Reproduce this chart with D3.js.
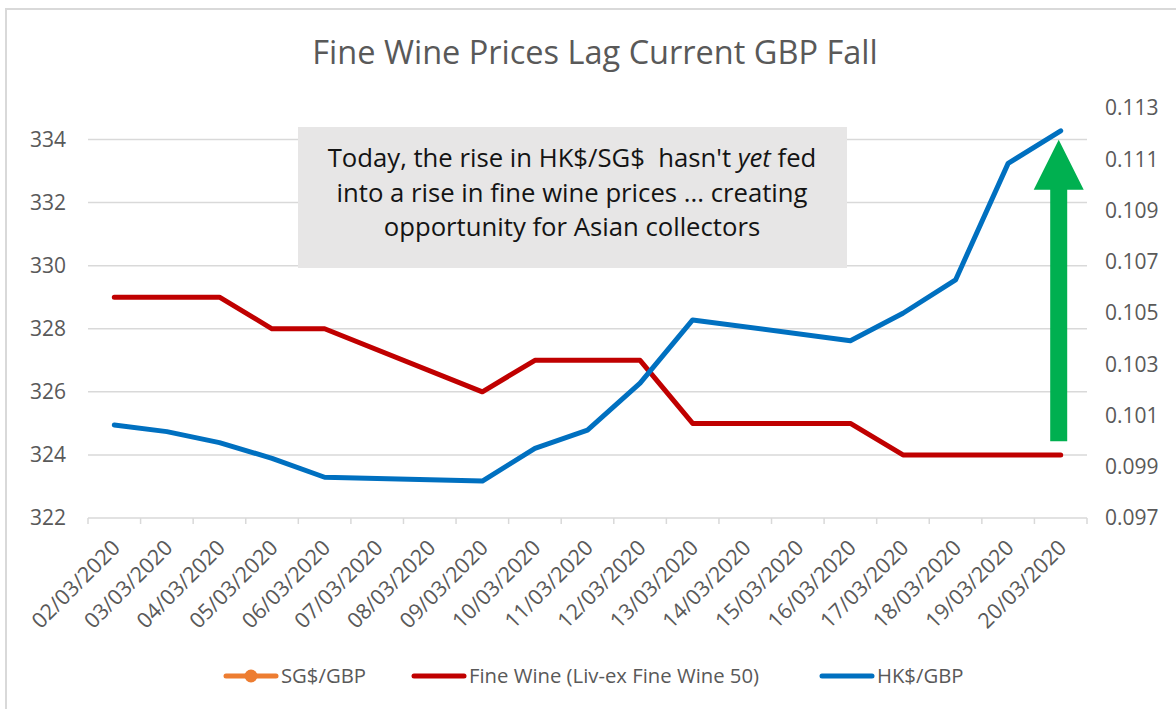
<!DOCTYPE html>
<html>
<head>
<meta charset="utf-8">
<script src="https://cdn.jsdelivr.net/npm/d3@7"></script>
<style>
  html, body { margin: 0; padding: 0; background: #fff; }
  svg { display: block; }
  text { font-family: "Open Sans", Lato, sans-serif; }
</style>
</head>
<body>
<svg id="chart" width="1176" height="709"></svg>
<script>
// ---- data ----
const categories = ["02/03/2020","03/03/2020","04/03/2020","05/03/2020","06/03/2020","07/03/2020","08/03/2020","09/03/2020","10/03/2020","11/03/2020","12/03/2020","13/03/2020","14/03/2020","15/03/2020","16/03/2020","17/03/2020","18/03/2020","19/03/2020","20/03/2020"];
const fineWine = [329,329,329,328,328,null,null,326,327,327,327,325,null,null,325,324,324,324,324];
const hkdGbp = [0.10063,0.10037,0.09994,0.09933,0.09859,null,null,0.09844,0.09972,0.10043,0.10226,0.10473,null,null,0.10392,0.10499,0.10629,0.11084,0.11211];
const sgdGbp = [null,null,null,null,null,null,null,null,null,null,null,null,null,null,null,null,null,null,null];
const leftTicks = [322,324,326,328,330,332,334];
const rightTicks = [0.097,0.099,0.101,0.103,0.105,0.107,0.109,0.111,0.113];
const seriesNames = ["SG$/GBP","Fine Wine (Liv-ex Fine Wine 50)","HK$/GBP"];
const titleText = "Fine Wine Prices Lag Current GBP Fall";
const noteLines = [["Today, the rise in HK$/SG$  hasn't ", "yet", " fed"],["into a rise in fine wine prices ... creating"],["opportunity for Asian collectors"]];

// ---- layout ----
const svg = d3.select("#chart");
const plot = {left: 88, right: 1087, top: 108, bottom: 518};
const textGrey = "#595959", gridGrey = "#d9d9d9";

svg.append("rect").attr("x",6).attr("y",9).attr("width",1200).attr("height",720)
  .attr("fill","#fff").attr("stroke","#d9d9d9").attr("stroke-width",2);

const x = d3.scaleBand().domain(categories).range([plot.left, plot.right]).paddingInner(0).paddingOuter(0);
const xc = d => x(d) + x.bandwidth()/2;
const yL = d3.scaleLinear().domain([322,335]).range([plot.bottom, plot.top]);
const yR = d3.scaleLinear().domain([0.097,0.113]).range([plot.bottom, plot.top]);

// gridlines
svg.append("g").selectAll("line").data(leftTicks.slice(1)).join("line")
  .attr("x1",plot.left).attr("x2",plot.right)
  .attr("y1",d=>yL(d)).attr("y2",d=>yL(d))
  .attr("stroke",gridGrey).attr("stroke-width",1.5);

// x axis
const xAxis = svg.append("g").attr("transform",`translate(0,${plot.bottom})`);
xAxis.append("line").attr("x1",plot.left).attr("x2",plot.right).attr("stroke",gridGrey).attr("stroke-width",1.5);
const bounds = categories.map(c => x(c)).concat([plot.right]);
xAxis.selectAll("line.tk").data(bounds).join("line").attr("class","tk")
  .attr("x1",d=>d).attr("x2",d=>d).attr("y1",0).attr("y2",6)
  .attr("stroke",gridGrey).attr("stroke-width",1.5);
xAxis.selectAll("text").data(categories).join("text")
  .attr("transform",d=>`translate(${xc(d)+3},${27}) rotate(-45)`)
  .attr("text-anchor","end").attr("dominant-baseline","middle")
  .attr("fill",textGrey).attr("font-size",21.5).text(d=>d);

// left axis labels
svg.append("g").selectAll("text").data(leftTicks).join("text")
  .attr("x",66).attr("y",d=>yL(d)).attr("dy","0.35em")
  .attr("text-anchor","end").attr("fill",textGrey).attr("font-size",21).text(d=>d);

// right axis labels
svg.append("g").selectAll("text").data(rightTicks).join("text")
  .attr("x",1105).attr("y",d=>yR(d)).attr("dy","0.35em")
  .attr("text-anchor","start").attr("fill",textGrey).attr("font-size",21).text(d=>d.toFixed(3));

// lines
function drawLine(vals, yScale, color){
  const pts = categories.map((c,i)=>({c, v: vals[i]})).filter(p=>p.v!==null);
  if(!pts.length) return;
  svg.append("path").datum(pts)
    .attr("d", d3.line().x(p=>xc(p.c)).y(p=>yScale(p.v)))
    .attr("fill","none").attr("stroke",color).attr("stroke-width",5)
    .attr("stroke-linejoin","round").attr("stroke-linecap","round");
}
drawLine(sgdGbp, yR, "#ed7d31");
drawLine(fineWine, yL, "#c00000");
drawLine(hkdGbp, yR, "#0070c0");

// annotation box
const note = svg.append("g");
note.append("rect").attr("x",298).attr("y",127).attr("width",549).attr("height",141).attr("fill","#e7e6e6");
noteLines.forEach((parts,i)=>{
  const t = note.append("text").attr("x",572).attr("y",167+i*34.5)
    .attr("text-anchor","middle").attr("fill","#141414").attr("font-size",25.7)
    .style("white-space","pre");
  parts.forEach((p,j)=>{
    const ts = t.append("tspan").text(p);
    if(parts.length===3 && j===1) ts.attr("font-style","italic");
  });
});

// green arrow (pointing to last HK$/GBP point)
const lastIdx = categories.length-1;
const ax = xc(categories[lastIdx]) - 2;
const tipY = yR(hkdGbp[lastIdx]) + 9;
const baseY = yR(0.1000);
const headY = tipY + 50;
const arrow = d3.path();
arrow.moveTo(ax-8.5, baseY); arrow.lineTo(ax-8.5, headY); arrow.lineTo(ax-25, headY);
arrow.lineTo(ax, tipY); arrow.lineTo(ax+25, headY); arrow.lineTo(ax+8.5, headY);
arrow.lineTo(ax+8.5, baseY); arrow.closePath();
svg.append("path").attr("d",arrow.toString()).attr("fill","#00b050");

// title
svg.append("text").attr("x",595).attr("y",64).attr("text-anchor","middle")
  .attr("fill",textGrey).attr("font-size",32.5).text(titleText);

// legend
const legendItems = [
  {name: seriesNames[0], color:"#ed7d31", marker:true, x:226},
  {name: seriesNames[1], color:"#c00000", marker:false, x:414},
  {name: seriesNames[2], color:"#0070c0", marker:false, x:822}
];
const lg = svg.append("g");
legendItems.forEach(it=>{
  const g = lg.append("g").attr("transform",`translate(${it.x},676)`);
  g.append("line").attr("x1",0).attr("x2",50).attr("stroke",it.color).attr("stroke-width",5).attr("stroke-linecap","round");
  if(it.marker) g.append("circle").attr("cx",25).attr("r",6.5).attr("fill",it.color);
  g.append("text").attr("x",55).attr("dy","0.35em").attr("fill",textGrey).attr("font-size",20.3).text(it.name);
});
</script>
</body>
</html>
